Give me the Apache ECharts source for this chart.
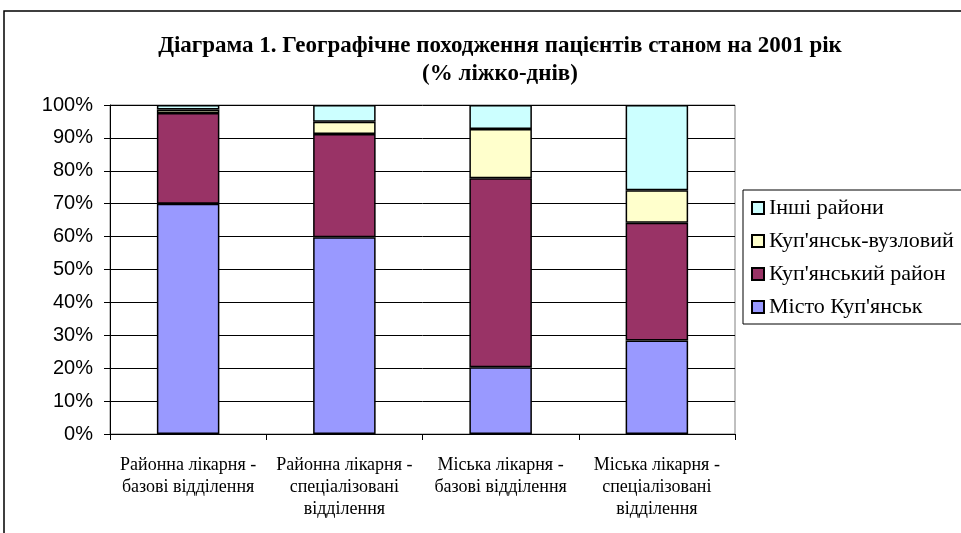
<!DOCTYPE html>
<html>
<head>
<meta charset="utf-8">
<script src="https://cdn.jsdelivr.net/npm/echarts@6/dist/echarts.min.js"></script>
<style>html,body{margin:0;padding:0;background:#fff;}#c{width:961px;height:533px;}</style>
</head>
<body>
<div id="c"></div>
<script>
const categories = [
  "Районна лікарня -\nбазові відділення",
  "Районна лікарня -\nспеціалізовані\nвідділення",
  "Міська лікарня -\nбазові відділення",
  "Міська лікарня -\nспеціалізовані\nвідділення"
];
const seriesNames = ["Місто Куп'янськ", "Куп'янський район", "Куп'янськ-вузловий", "Інші райони"];
const mistoKupiansk = [70.0, 59.8, 20.3, 28.4];
const kupianskyiRaion = [27.6, 31.4, 57.4, 35.8];
const kupianskVuzlovyi = [1.0, 3.7, 15.0, 9.9];
const inshiRaiony = [1.4, 5.1, 7.3, 25.9];
const yTicks = [0, 10, 20, 30, 40, 50, 60, 70, 80, 90, 100];

const colors = ["#9999FF", "#993366", "#FFFFCC", "#CCFFFF"];
const values = [mistoKupiansk, kupianskyiRaion, kupianskVuzlovyi, inshiRaiony];

const chart = echarts.init(document.getElementById('c'));
chart.setOption({
  animation: false,
  backgroundColor: '#fff',
  title: {
    text: 'Діаграма 1. Географічне походження пацієнтів станом на 2001 рік\n(% ліжко-днів)',
    left: 495, top: 27, textAlign: 'center',
    textStyle: { fontFamily: 'Liberation Serif', fontWeight: 'bold', fontSize: 23, lineHeight: 28, color: '#000' }
  },
  graphic: [{
    type: 'rect', shape: { x: 4, y: 11, width: 1100, height: 700 },
    style: { fill: 'none', stroke: '#000', lineWidth: 1.5 }, silent: true
  }],
  legend: {
    orient: 'vertical', left: 743, top: 190,
    data: [seriesNames[3], seriesNames[2], seriesNames[1], seriesNames[0]],
    itemWidth: 12, itemHeight: 12, itemGap: 11,
    borderColor: '#000', borderWidth: 1, padding: [7, 10, 6, 8],
    icon: 'rect',
    textStyle: { fontFamily: 'Liberation Serif', fontSize: 22, color: '#000', padding: [0, 0, 0, 0] }
  },
  grid: { left: 110, right: 226, top: 105, bottom: 99, show: true, borderColor: '#808080', borderWidth: 1 },
  xAxis: {
    type: 'category', data: categories,
    axisLine: { lineStyle: { color: '#000', width: 1 } },
    axisTick: { show: true, length: 6, lineStyle: { color: '#000' } },
    axisLabel: { fontFamily: 'Liberation Serif', fontSize: 18, lineHeight: 22, color: '#000', margin: 20, interval: 0 }
  },
  yAxis: {
    type: 'value', min: 0, max: 100, interval: 10,
    axisLine: { show: true, lineStyle: { color: '#000', width: 1 } },
    axisTick: { show: true, length: 6, lineStyle: { color: '#000' } },
    axisLabel: { formatter: v => yTicks.includes(v) ? v + '%' : '', fontFamily: 'Liberation Sans', fontSize: 20, color: '#000', margin: 17 },
    splitLine: { lineStyle: { color: '#000', width: 1 } }
  },
  series: seriesNames.map((n, i) => ({
    name: n, type: 'bar', stack: 'total', data: values[i], barWidth: '40%',
    itemStyle: { color: colors[i], borderColor: '#000', borderWidth: 1.5 }
  }))
});
</script>
</body>
</html>
